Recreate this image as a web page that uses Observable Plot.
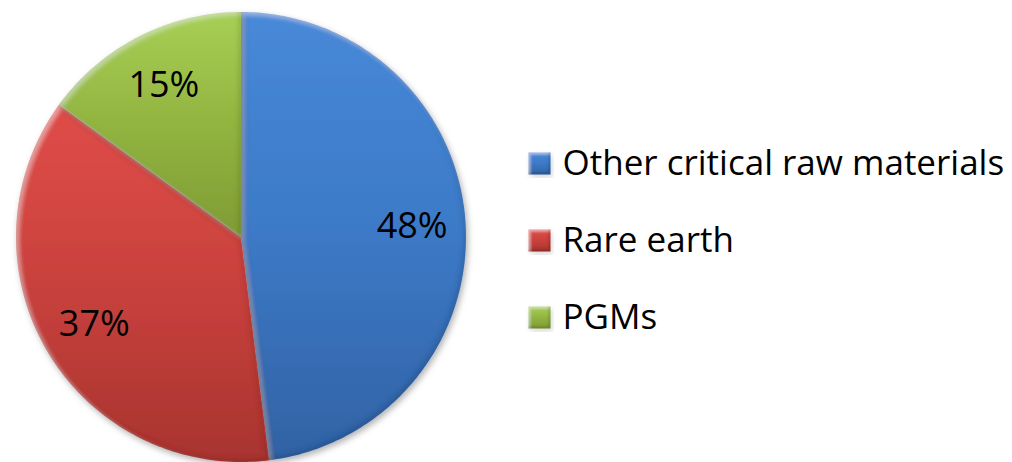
<!DOCTYPE html>
<html>
<head>
<meta charset="utf-8">
<script src="https://cdn.jsdelivr.net/npm/d3@7"></script>
<script src="https://cdn.jsdelivr.net/npm/@observablehq/plot@0.6"></script>
<style>
  html, body { margin: 0; padding: 0; background: #ffffff; }
  #chart { width: 1012px; height: 462px; }
</style>
</head>
<body>
<div id="chart"></div>
<script>
// Share of the total, by material group
const categories = ["Other critical raw materials", "Rare earth", "PGMs"];
const shares = [48, 37, 15];
const labels = ["48%", "37%", "15%"];
const gradientIds = ["g-blue", "g-red", "g-green"];

// Layout (pixels)
const W = 1012, H = 462;
const cx = 241, cy = 237, R = 225;
const toX = px => (px - cx) / R;   // pixel -> data units on the x scale
const toY = py => (cy - py) / R;   // pixel -> data units on the y scale

// Each wedge: an area from the centre (x1,y1) to the arc (x2,y2), clockwise from 12 o'clock
const total = d3.sum(shares);
const wedges = [];
const labelPts = [];
let acc = 0;
categories.forEach((name, i) => {
  const a0 = acc / total * 2 * Math.PI;
  acc += shares[i];
  const a1 = acc / total * 2 * Math.PI;
  const steps = Math.max(2, Math.ceil((a1 - a0) / (Math.PI / 180)));
  for (let k = 0; k <= steps; k++) {
    const a = a0 + (a1 - a0) * k / steps;
    wedges.push({name, x1: 0, y1: 0, x2: Math.sin(a), y2: Math.cos(a)});
  }
  const am = (a0 + a1) / 2;
  labelPts.push({name, text: labels[i], x: 0.76 * Math.sin(am), y: 0.76 * Math.cos(am)});
});

// Legend rows
const legendRowsPx = [163, 240, 317];
const legend = categories.map((name, i) => ({name, y: toY(legendRowsPx[i])}));

const font = "'Open Sans', 'DejaVu Sans', sans-serif";

const plot = Plot.plot({
  width: W,
  height: H,
  margin: 0,
  style: {fontFamily: font, background: "transparent", overflow: "visible"},
  x: {domain: [-1, 1], range: [cx - R, cx + R], axis: null},
  y: {domain: [-1, 1], range: [cy + R, cy - R], axis: null},
  color: {domain: categories, range: gradientIds.map(id => `url(#${id})`)},
  marks: [
    Plot.area(wedges, {x1: "x1", y1: "y1", x2: "x2", y2: "y2", z: "name", fill: "name", curve: "linear", className: "slice"}),
    Plot.text(labelPts, {x: "x", y: "y", text: "text", fontSize: 36, fill: "#000", lineAnchor: "middle"}),
    Plot.dot(legend, {x: toX(539), y: "y", symbol: "square", r: 12.4, fill: "name", stroke: "none", className: "swatch"}),
    Plot.text(legend, {x: toX(562), y: "y", text: "name", textAnchor: "start", lineAnchor: "middle", fontSize: 35, fill: "#000"})
  ]
});

// Gradients and bevel/shadow effects for the slices and swatches
const svg = d3.select(plot);
const defs = svg.insert("defs", ":first-child");
const stops = {
  "g-blue": ["#4789d8", "#3c79c6", "#3262a4"],
  "g-red": ["#e04d48", "#c9413d", "#a8342f"],
  "g-green": ["#a8cf55", "#92b440", "#7f9c35"]
};
for (const id of gradientIds) {
  const g = defs.append("linearGradient").attr("id", id)
    .attr("gradientUnits", "objectBoundingBox")
    .attr("x1", 0).attr("y1", 0).attr("x2", 0).attr("y2", 1);
  stops[id].forEach((c, k) => g.append("stop").attr("offset", k / 2).attr("stop-color", c));
}

function bevel(id, d, blur, hi, lo, shadow) {
  const f = defs.append("filter").attr("id", id)
    .attr("x", "-10%").attr("y", "-10%").attr("width", "125%").attr("height", "125%");
  // outer soft shadow
  f.append("feOffset").attr("in", "SourceAlpha").attr("dx", 2).attr("dy", 3).attr("result", "so");
  f.append("feGaussianBlur").attr("in", "so").attr("stdDeviation", 3).attr("result", "sb");
  f.append("feFlood").attr("flood-color", "#000").attr("flood-opacity", shadow).attr("result", "sf");
  f.append("feComposite").attr("in", "sf").attr("in2", "sb").attr("operator", "in").attr("result", "shadow");
  // light inner edge (top-left)
  f.append("feOffset").attr("in", "SourceAlpha").attr("dx", d).attr("dy", d).attr("result", "o1");
  f.append("feGaussianBlur").attr("in", "o1").attr("stdDeviation", blur).attr("result", "b1");
  f.append("feComposite").attr("in", "SourceAlpha").attr("in2", "b1").attr("operator", "out").attr("result", "e1");
  f.append("feFlood").attr("flood-color", "#fff").attr("flood-opacity", hi).attr("result", "f1");
  f.append("feComposite").attr("in", "f1").attr("in2", "e1").attr("operator", "in").attr("result", "hl");
  // dark inner edge (bottom-right)
  f.append("feOffset").attr("in", "SourceAlpha").attr("dx", -d).attr("dy", -d).attr("result", "o2");
  f.append("feGaussianBlur").attr("in", "o2").attr("stdDeviation", blur).attr("result", "b2");
  f.append("feComposite").attr("in", "SourceAlpha").attr("in2", "b2").attr("operator", "out").attr("result", "e2");
  f.append("feFlood").attr("flood-color", "#000").attr("flood-opacity", lo).attr("result", "f2");
  f.append("feComposite").attr("in", "f2").attr("in2", "e2").attr("operator", "in").attr("result", "dk");
  const m = f.append("feMerge");
  m.append("feMergeNode").attr("in", "shadow");
  m.append("feMergeNode").attr("in", "SourceGraphic");
  m.append("feMergeNode").attr("in", "hl");
  m.append("feMergeNode").attr("in", "dk");
}
bevel("bevel-slice", 3, 2, 0.3, 0.22, 0.3);
bevel("bevel-swatch", 2, 1, 0.35, 0.3, 0.15);

svg.selectAll("g.slice path").attr("filter", "url(#bevel-slice)");
svg.selectAll("g.swatch path").attr("filter", "url(#bevel-swatch)");

document.getElementById("chart").appendChild(plot);
</script>
</body>
</html>
